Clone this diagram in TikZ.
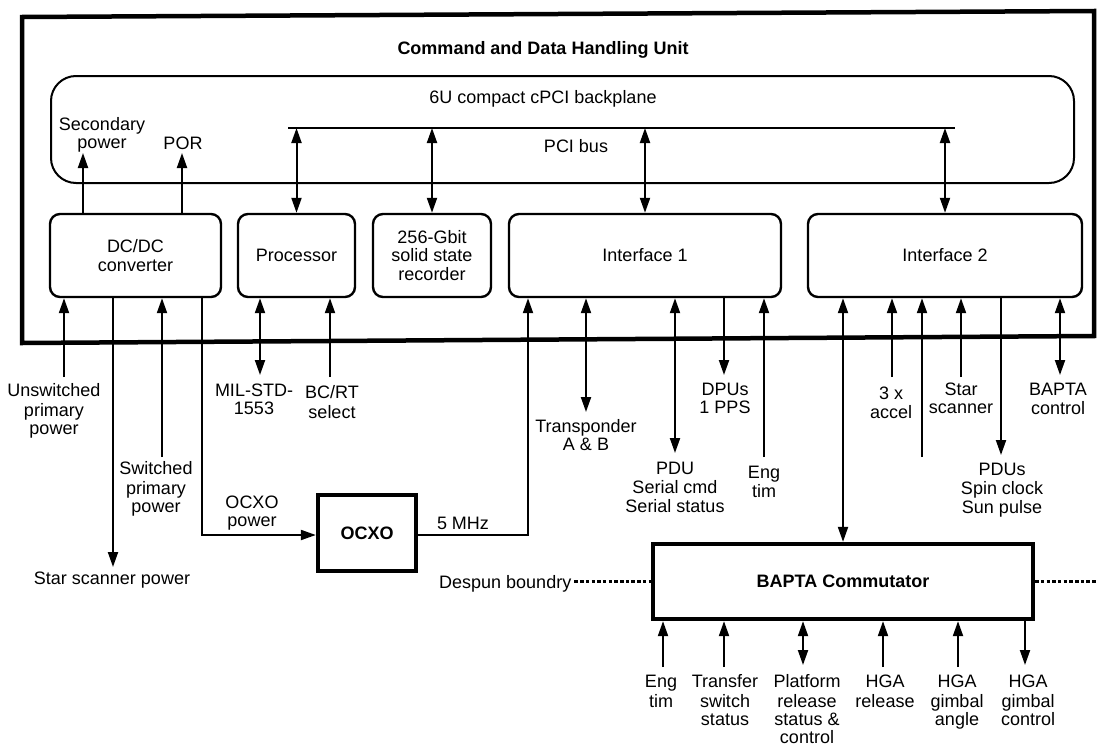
\documentclass[tikz,border=0pt]{standalone}
\usepackage{fontspec}
\setmainfont{Liberation Sans}
\usetikzlibrary{arrows.meta}
\newcommand\lblfont{\fontsize{18}{18.3}\selectfont}
\begin{document}
\begin{tikzpicture}[x=1pt,y=-1pt,
  lbl/.style={font=\lblfont, align=center, anchor=north, inner sep=0pt},
  blk/.style={draw, line width=2.4pt, rounded corners=10pt, align=center, font=\lblfont, inner sep=0pt, minimum height=83pt},
  heavybox/.style={draw, line width=4.3pt, align=center, font=\bfseries\lblfont, inner sep=0pt},
  conn/.style={line width=2pt},
  arr/.style={-{Triangle[length=15pt,width=10pt]}},
  darr/.style={{Triangle[length=15pt,width=10pt]}-{Triangle[length=15pt,width=10pt]}},
  dotline/.style={line width=3.5pt, dash pattern=on 3.5pt off 2.2pt}]
\useasboundingbox (0,0) rectangle (1097,747);
% outer unit
\draw[line width=4.5pt] (22,17) -- (1094,11) -- (1094,336) -- (22,343) -- cycle;
\node[font=\bfseries\lblfont, anchor=base, inner sep=0pt] (title) at (543,54.5) {Command and Data Handling Unit};
% backplane
\node[draw, line width=2pt, rounded corners=25pt, minimum width=1023pt, minimum height=107pt, inner sep=0pt] (bp) at (562.5,129.5) {};
\node[font=\lblfont, anchor=base, inner sep=0pt] (bptext) at (543,103.5) {6U compact cPCI backplane};
\coordinate (busL) at (288,128);
\coordinate (busR) at (955,128);
\draw[line width=2pt] (busL) -- (busR);
\node[font=\lblfont, anchor=base, inner sep=0pt] (pcibus) at (576,152.5) {PCI bus};
% boxes
\node[blk, minimum width=171pt] (dcdc) at (135.5,255.5) {DC/DC\\converter};
\node[blk, minimum width=117pt] (proc) at (296.5,255.5) {Processor};
\node[blk, minimum width=118pt] (ssr) at (432,255.5) {256-Gbit\\solid state\\recorder};
\node[blk, minimum width=272pt] (if1) at (645,255.5) {Interface 1};
\node[blk, minimum width=274pt] (if2) at (945,255.5) {Interface 2};
% bus connections
\draw[conn,darr] (busL -| proc) -- (proc.north);
\draw[conn,darr] (busL -| ssr) -- (ssr.north);
\draw[conn,darr] (busL -| if1) -- (if1.north);
\draw[conn,darr] (busL -| if2) -- (if2.north);
% secondary power / POR
\coordinate (sp) at (83,153);
\coordinate (por) at (182,153);
\draw[conn,arr] (dcdc.north -| sp) -- (sp);
\draw[conn,arr] (dcdc.north -| por) -- (por);
\node[lbl] (lsp) at (102,117.4) {\strut Secondary\\power};
\node[lbl] (lpor) at (183,136.4) {\strut POR};
% OCXO
\node[heavybox, minimum width=98pt, minimum height=76pt] (ocxo) at (367,533) {OCXO};
% DC/DC connections
\coordinate (unsw) at (64,377);
\coordinate (ssp) at (113,567);
\coordinate (sw) at (162,457);
\coordinate (ocp) at (202,535);
\draw[conn,arr] (unsw) -- (unsw |- dcdc.south);
\draw[conn,arr] (ssp |- dcdc.south) -- (ssp);
\draw[conn,arr] (sw) -- (sw |- dcdc.south);
\draw[conn,arr] (ocp |- dcdc.south) -- (ocp) -- (ocp -| ocxo.west);
\node[lbl] (lunsw) at (54,383.4) {\strut Unswitched\\primary\\power};
\node[lbl] (lssp) at (112,571.4) {\strut Star scanner power};
\node[lbl] (lsw) at (156,461.4) {\strut Switched\\primary\\power};
\node[lbl] (locp) at (252,495.4) {\strut OCXO\\power};
% 5 MHz
\coordinate (fm) at (528,535);
\draw[conn,arr] (ocxo.east |- fm) -- (fm) -- (fm |- if1.south);
\node[lbl] (lfm) at (463,516.4) {\strut 5 MHz};
% Processor connections
\coordinate (mil) at (260,375);
\coordinate (bcrt) at (330,377);
\draw[conn,darr] (mil |- proc.south) -- (mil);
\draw[conn,arr] (bcrt) -- (bcrt |- proc.south);
\node[lbl] (lmil) at (254,383.4) {\strut MIL-STD-\\1553};
\node[lbl] (lbcrt) at (332,385.4) {\strut BC/RT\\select};
% Interface 1 connections
\coordinate (tr) at (586,412);
\coordinate (pdu) at (675,453);
\coordinate (dpu) at (724,375);
\coordinate (engA) at (764,457);
\draw[conn,darr] (tr |- if1.south) -- (tr);
\draw[conn,darr] (pdu |- if1.south) -- (pdu);
\draw[conn,arr] (dpu |- if1.south) -- (dpu);
\draw[conn,arr] (engA) -- (engA |- if1.south);
\node[lbl] (ltr) at (586,419.4) {\strut Transponder\\A \& B};
\node[lbl] (lpdu) at (675,461.4) {\strut PDU\\Serial cmd\\Serial status};
\node[lbl] (ldpu) at (725,382.4) {\strut DPUs\\1 PPS};
\node[lbl] (lengA) at (764,465.4) {\strut Eng\\tim};
% BAPTA
\node[heavybox, minimum width=380pt, minimum height=75pt] (bapta) at (843,581.5) {BAPTA Commutator};
\coordinate (blx) at (843,450);
\draw[conn,darr] (blx |- if2.south) -- (blx |- bapta.north);
% Interface 2 connections
\coordinate (acc) at (892,377);
\coordinate (unl) at (922,457);
\coordinate (stsc) at (961,377);
\coordinate (pdus) at (1001,455);
\coordinate (bctl) at (1060,375);
\draw[conn,arr] (acc) -- (acc |- if2.south);
\draw[conn,arr] (unl) -- (unl |- if2.south);
\draw[conn,arr] (stsc) -- (stsc |- if2.south);
\draw[conn,arr] (pdus |- if2.south) -- (pdus);
\draw[conn,darr] (bctl |- if2.south) -- (bctl);
\node[lbl] (lacc) at (891,386.4) {\strut 3 x\\accel};
\node[lbl] (lstsc) at (961,382.4) {\strut Star\\scanner};
\node[lbl] (lpdus) at (1002,462.4) {\strut PDUs\\Spin clock\\Sun pulse};
\node[lbl] (lbctl) at (1058,382.4) {\strut BAPTA\\control};
% despun boundary
\node[font=\lblfont, anchor=base west, inner sep=0pt, inner xsep=3pt] (despun) at (436,588) {Despun boundry};
\coordinate (rend) at (1097,581.5);
\draw[dotline] (despun.east |- bapta.west) -- (bapta.west);
\draw[dotline] (bapta.east) -- (rend);
% BAPTA bottom connections
\coordinate (b1) at (663,667);
\coordinate (b2) at (724,667);
\coordinate (b3) at (803,665);
\coordinate (b4) at (883,667);
\coordinate (b5) at (958,667);
\coordinate (b6) at (1025,665);
\draw[conn,arr] (b1) -- (b1 |- bapta.south);
\draw[conn,arr] (b2) -- (b2 |- bapta.south);
\draw[conn,darr] (b3 |- bapta.south) -- (b3);
\draw[conn,arr] (b4) -- (b4 |- bapta.south);
\draw[conn,arr] (b5) -- (b5 |- bapta.south);
\draw[conn,arr] (b6 |- bapta.south) -- (b6);
\node[lbl] (lb1) at (661,674.6) {\strut Eng\\tim};
\node[lbl] (lb2) at (725,674.6) {\strut Transfer\\switch\\status};
\node[lbl] (lb3) at (807,674.6) {\strut Platform\\release\\status \&\\control};
\node[lbl] (lb4) at (885,674.6) {\strut HGA\\release};
\node[lbl] (lb5) at (957,674.6) {\strut HGA\\gimbal\\angle};
\node[lbl] (lb6) at (1028,674.6) {\strut HGA\\gimbal\\control};
\end{tikzpicture}
\end{document}
